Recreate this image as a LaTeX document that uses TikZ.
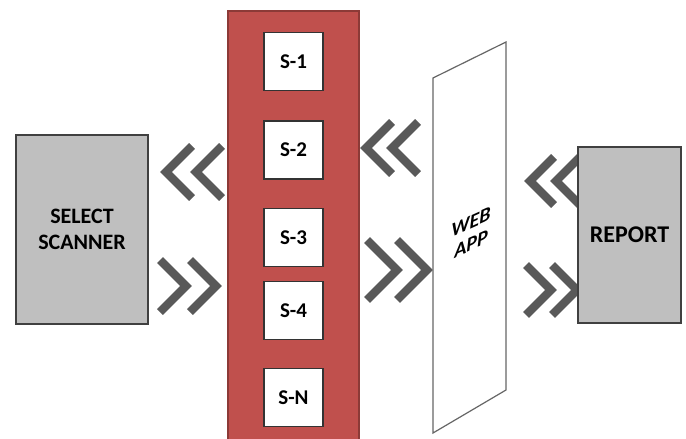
\documentclass[tikz,border=0pt]{standalone}
\usepackage{fontspec}
\setmainfont{Carlito}
\definecolor{redcol}{HTML}{C0504D}
\definecolor{redbd}{HTML}{8C3A37}
\definecolor{graybox}{HTML}{BFBFBF}
\definecolor{graybd}{HTML}{404040}
\definecolor{chevcol}{HTML}{595959}
\tikzset{
  chev/.style={draw=chevcol, line width=4.2pt, line join=miter, line cap=butt},
  pics/dchev/.style n args={3}{code={
    \draw[chev] ({#1*#3},{-#3}) -- (0,0) -- ({#1*#3},{#3});
    \draw[chev] ({#1*#2+#1*#3},{-#3}) -- ({#1*#2},0) -- ({#1*#2+#1*#3},{#3});
  }},
  graynode/.style={draw=graybd, fill=graybox, line width=0.6pt, font=\bfseries, align=center, inner sep=0pt},
  sbox/.style={draw=black!80, fill=white, line width=0.6pt, minimum width=29.5pt, minimum height=29pt, font=\bfseries\fontsize{10.5}{12}\selectfont, inner sep=0pt},
}
\begin{document}
\begin{tikzpicture}[x=0.5pt, y=-0.5pt]
\clip (0,0) rectangle (686,439);
\fill[white] (0,0) rectangle (686,439);
% red column
\node[draw=redbd, fill=redcol, line width=0.6pt, minimum width=65.5pt, minimum height=217pt, inner sep=0pt] (col) at (293.5,228) {};
\node[sbox] (s1) at (293.5,61.5) {S-1};
\node[sbox] (s2) at (293.5,150) {S-2};
\node[sbox] (s3) at (293.5,237.5) {S-3};
\node[sbox] (s4) at (293.5,310.5) {S-4};
\node[sbox] (sn) at (293.5,397.5) {S-N};
% chevrons
\pic at (166,172) {dchev={1}{30}{26}};
\pic at (216,286) {dchev={-1}{30}{26}};
\pic at (366,148) {dchev={1}{26}{26}};
\pic at (427,270) {dchev={-1}{30}{30}};
\pic at (530,181) {dchev={1}{26}{24}};
\pic at (577,290) {dchev={-1}{26}{25}};
% select scanner
\node[graynode, minimum width=66pt, minimum height=94.5pt, font=\bfseries\fontsize{11}{13}\selectfont] (sel) at (82,229.5) {SELECT\\SCANNER};
% web app
\coordinate (w1) at (433,78);
\coordinate (w2) at (506,42);
\coordinate (w3) at (506,390);
\coordinate (w4) at (433,433);
\draw[draw=black!60, fill=white, line width=0.6pt] (w1) -- (w2) -- (w3) -- (w4) -- cycle;
\node[yslant=0.45, font=\bfseries\itshape\fontsize{10}{11}\selectfont, align=center] (web) at (471,233) {WEB\\APP};
% report
\node[graynode, minimum width=51.5pt, minimum height=88pt, font=\bfseries\fontsize{12}{14}\selectfont] (rep) at (629.5,235) {REPORT};
\end{tikzpicture}
\end{document}
